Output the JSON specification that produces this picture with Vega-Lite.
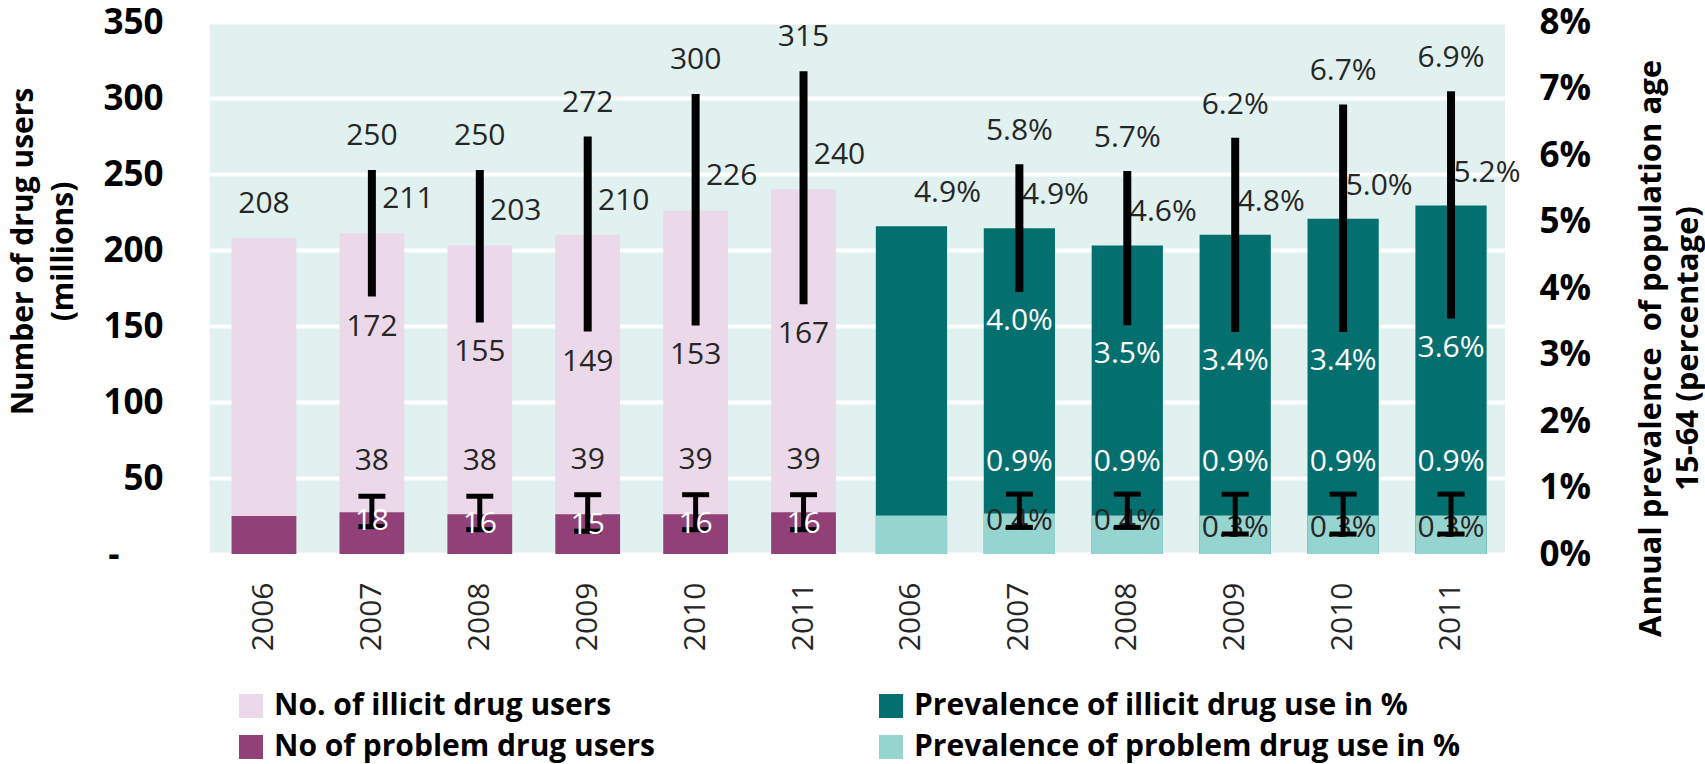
{
  "$schema": "https://vega.github.io/schema/vega-lite/v6.json",
  "width": 1295,
  "height": 532,
  "autosize": {"type": "none"},
  "padding": {"left": 210, "top": 22, "right": 200, "bottom": 210},
  "background": "white",
  "config": {
    "view": {"fill": "#E0F1EF", "stroke": null},
    "axis": {"labelFont": "Open Sans", "titleFont": "Open Sans"},
    "legend": {"labelFont": "Open Sans"},
    "text": {"font": "Open Sans", "fontSize": 30, "baseline": "middle", "align": "center"}
  },
  "data": {
    "values": [
      {"sec": "u", "slot": "u2006", "v": 208, "p": 25.0, "hi": null, "lo": null, "ph": null, "pl": null},
      {"sec": "u", "slot": "u2007", "v": 211, "p": 27.4, "hi": 250, "lo": 172, "ph": 38, "pl": 18},
      {"sec": "u", "slot": "u2008", "v": 203, "p": 26.1, "hi": 250, "lo": 155, "ph": 38, "pl": 16},
      {"sec": "u", "slot": "u2009", "v": 210, "p": 26.1, "hi": 272, "lo": 149, "ph": 39, "pl": 15},
      {"sec": "u", "slot": "u2010", "v": 226, "p": 26.1, "hi": 300, "lo": 153, "ph": 39, "pl": 16},
      {"sec": "u", "slot": "u2011", "v": 240, "p": 27.4, "hi": 315, "lo": 167, "ph": 39, "pl": 16},
      {"sec": "p", "slot": "p2006", "v": 0.0493, "p": 0.0058, "hi": null, "lo": null, "ph": null, "pl": null},
      {"sec": "p", "slot": "p2007", "v": 0.049, "p": 0.0061, "hi": 0.058, "lo": 0.040, "ph": 0.009, "pl": 0.004},
      {"sec": "p", "slot": "p2008", "v": 0.0464, "p": 0.0058, "hi": 0.057, "lo": 0.035, "ph": 0.009, "pl": 0.004},
      {"sec": "p", "slot": "p2009", "v": 0.048, "p": 0.0058, "hi": 0.062, "lo": 0.034, "ph": 0.009, "pl": 0.003},
      {"sec": "p", "slot": "p2010", "v": 0.0504, "p": 0.0058, "hi": 0.067, "lo": 0.034, "ph": 0.009, "pl": 0.003},
      {"sec": "p", "slot": "p2011", "v": 0.0524, "p": 0.0058, "hi": 0.069, "lo": 0.036, "ph": 0.009, "pl": 0.003}
    ]
  },
  "encoding": {
    "x": {
      "field": "slot",
      "type": "nominal",
      "sort": null,
      "scale": {
        "domain": ["u2006", "u2007", "u2008", "u2009", "u2010", "u2011", "p2006", "p2007", "p2008", "p2009", "p2010", "p2011"],
        "paddingInner": 0,
        "paddingOuter": 0
      },
      "axis": {
        "labelExpr": "substring(datum.label, 1)",
        "labelAngle": -90,
        "labelAlign": "right",
        "labelBaseline": "middle",
        "labelFontSize": 30,
        "labelColor": "#262626",
        "labelPadding": 28,
        "ticks": false,
        "domain": false,
        "grid": false,
        "title": null
      }
    }
  },
  "layer": [
    {
      "transform": [{"filter": "datum.sec == 'u'"}],
      "layer": [
        {
          "mark": {"type": "bar", "width": {"band": 0.6}},
          "encoding": {
            "y": {
              "field": "v",
              "type": "quantitative",
              "scale": {"domain": [0, 350], "nice": false, "zero": true},
              "axis": {
                "orient": "left",
                "values": [0, 50, 100, 150, 200, 250, 300, 350],
                "labelExpr": "datum.value == 0 ? '-' : datum.label",
                "labelFontSize": 35,
                "labelFontWeight": "bold",
                "labelColor": "#000000",
                "labelPadding": {"condition": {"test": "datum.value == 0", "value": 91}, "value": 47},
                "ticks": false,
                "domain": false,
                "grid": true,
                "gridColor": "#FFFFFF",
                "gridWidth": 4,
                "title": ["Number of drug users", "(millions)"],
                "titleFontSize": 30,
                "titleFontWeight": "bold",
                "titleColor": "#000000",
                "titleAngle": -90,
                "titleAlign": "center",
                "titleBaseline": "middle",
                "titleLineHeight": 40,
                "titleX": -187,
                "titleY": 229
              }
            },
            "color": {
              "datum": "No. of illicit drug users",
              "type": "nominal",
              "scale": {
                "domain": ["No. of illicit drug users", "Prevalence of illicit drug use in %", "No of problem drug users", "Prevalence of problem drug use in %"],
                "range": ["#EBD9E9", "#03706F", "#914078", "#96D4CF"]
              },
              "legend": {
                "orient": "none",
                "legendX": 26,
                "legendY": 669,
                "direction": "horizontal",
                "columns": 2,
                "columnPadding": 221,
                "rowPadding": 11,
                "symbolType": "square",
                "symbolSize": 576,
                "symbolStrokeWidth": 0,
                "symbolOpacity": 1,
                "labelFontSize": 30,
                "labelFontWeight": "bold",
                "labelColor": "#000000",
                "labelOffset": 8,
                "labelLimit": 0,
                "padding": 0,
                "title": null
              }
            }
          }
        },
        {
          "mark": {"type": "bar", "width": {"band": 0.6}},
          "encoding": {
            "y": {"field": "p", "type": "quantitative"},
            "color": {"datum": "No of problem drug users", "type": "nominal"}
          }
        },
        {
          "transform": [{"filter": "datum.hi == null"}],
          "mark": {"type": "text", "dy": -34, "color": "#262626"},
          "encoding": {
            "y": {"field": "v", "type": "quantitative"},
            "text": {"field": "v", "type": "quantitative", "format": "d"}
          }
        },
        {
          "transform": [{"filter": "datum.hi != null"}],
          "mark": {"type": "text", "dy": -34, "dx": 36, "color": "#262626"},
          "encoding": {
            "y": {"field": "v", "type": "quantitative"},
            "text": {"field": "v", "type": "quantitative", "format": "d"}
          }
        },
        {
          "transform": [{"filter": "datum.hi != null"}],
          "mark": {"type": "text", "dy": -38, "color": "#262626"},
          "encoding": {
            "y": {"field": "hi", "type": "quantitative"},
            "text": {"field": "hi", "type": "quantitative", "format": "d"}
          }
        },
        {
          "transform": [{"filter": "datum.hi != null"}],
          "mark": {"type": "text", "dy": 34, "color": "#262626"},
          "encoding": {
            "y": {"field": "lo", "type": "quantitative"},
            "text": {"field": "lo", "type": "quantitative", "format": "d"}
          }
        },
        {
          "transform": [{"filter": "datum.hi != null"}],
          "mark": {"type": "text", "dy": -35, "color": "#262626"},
          "encoding": {
            "y": {"field": "ph", "type": "quantitative"},
            "text": {"field": "ph", "type": "quantitative", "format": "d"}
          }
        },
        {
          "transform": [{"filter": "datum.hi != null"}],
          "mark": {"type": "rule", "strokeWidth": 8, "strokeCap": "square", "color": "#000000"},
          "encoding": {
            "y": {"field": "lo", "type": "quantitative"},
            "y2": {"field": "hi"}
          }
        },
        {
          "transform": [{"filter": "datum.hi != null"}],
          "mark": {"type": "rule", "strokeWidth": 5, "color": "#000000"},
          "encoding": {
            "y": {"field": "pl", "type": "quantitative"},
            "y2": {"field": "ph"}
          }
        },
        {
          "transform": [{"filter": "datum.hi != null"}],
          "mark": {"type": "tick", "size": 27, "thickness": 5, "color": "#000000", "opacity": 1},
          "encoding": {
            "y": {"field": "ph", "type": "quantitative"}
          }
        },
        {
          "transform": [{"filter": "datum.hi != null"}],
          "mark": {"type": "tick", "size": 27, "thickness": 5, "color": "#000000", "opacity": 1},
          "encoding": {
            "y": {"field": "pl", "type": "quantitative"}
          }
        },
        {
          "transform": [{"filter": "datum.hi != null"}],
          "mark": {"type": "text", "dy": -6, "color": "#FFFFFF"},
          "encoding": {
            "y": {"field": "pl", "type": "quantitative"},
            "text": {"field": "pl", "type": "quantitative", "format": "d"}
          }
        }
      ]
    },
    {
      "transform": [{"filter": "datum.sec == 'p'"}],
      "layer": [
        {
          "mark": {"type": "bar", "width": {"band": 0.66}},
          "encoding": {
            "y": {
              "field": "v",
              "type": "quantitative",
              "scale": {"domain": [0, 0.08], "nice": false, "zero": true},
              "axis": {
                "orient": "right",
                "values": [0, 0.01, 0.02, 0.03, 0.04, 0.05, 0.06, 0.07, 0.08],
                "format": ".0%",
                "labelFontSize": 35,
                "labelFontWeight": "bold",
                "labelColor": "#000000",
                "labelPadding": 34,
                "ticks": false,
                "domain": false,
                "grid": false,
                "title": ["Annual prevalence\u00a0 of population age", "15-64 (percentage)"],
                "titleFontSize": 31,
                "titleFontWeight": "bold",
                "titleColor": "#000000",
                "titleAngle": -90,
                "titleAlign": "center",
                "titleBaseline": "middle",
                "titleLineHeight": 37,
                "titleX": 146,
                "titleY": 326
              }
            },
            "color": {"datum": "Prevalence of illicit drug use in %", "type": "nominal"}
          }
        },
        {
          "mark": {"type": "bar", "width": {"band": 0.66}},
          "encoding": {
            "y": {"field": "p", "type": "quantitative"},
            "color": {"datum": "Prevalence of problem drug use in %", "type": "nominal"}
          }
        },
        {
          "mark": {"type": "text", "dy": -33, "dx": 36, "color": "#262626"},
          "encoding": {
            "y": {"field": "v", "type": "quantitative"},
            "text": {"field": "v", "type": "quantitative", "format": ".1%"}
          }
        },
        {
          "transform": [{"filter": "datum.hi != null"}],
          "mark": {"type": "text", "dy": -37, "color": "#262626"},
          "encoding": {
            "y": {"field": "hi", "type": "quantitative"},
            "text": {"field": "hi", "type": "quantitative", "format": ".1%"}
          }
        },
        {
          "transform": [{"filter": "datum.hi != null"}],
          "mark": {"type": "text", "dy": 33, "color": "#FFFFFF"},
          "encoding": {
            "y": {"field": "lo", "type": "quantitative"},
            "text": {"field": "lo", "type": "quantitative", "format": ".1%"}
          }
        },
        {
          "transform": [{"filter": "datum.hi != null"}],
          "mark": {"type": "text", "dy": -32, "color": "#FFFFFF"},
          "encoding": {
            "y": {"field": "ph", "type": "quantitative"},
            "text": {"field": "ph", "type": "quantitative", "format": ".1%"}
          }
        },
        {
          "transform": [{"filter": "datum.hi != null"}],
          "mark": {"type": "rule", "strokeWidth": 8, "strokeCap": "square", "color": "#000000"},
          "encoding": {
            "y": {"field": "lo", "type": "quantitative"},
            "y2": {"field": "hi"}
          }
        },
        {
          "transform": [{"filter": "datum.hi != null"}],
          "mark": {"type": "text", "dy": -6, "color": "#262626"},
          "encoding": {
            "y": {"field": "pl", "type": "quantitative"},
            "text": {"field": "pl", "type": "quantitative", "format": ".1%"}
          }
        },
        {
          "transform": [{"filter": "datum.hi != null"}],
          "mark": {"type": "rule", "strokeWidth": 5, "color": "#000000"},
          "encoding": {
            "y": {"field": "pl", "type": "quantitative"},
            "y2": {"field": "ph"}
          }
        },
        {
          "transform": [{"filter": "datum.hi != null"}],
          "mark": {"type": "tick", "size": 27, "thickness": 5, "color": "#000000", "opacity": 1},
          "encoding": {
            "y": {"field": "ph", "type": "quantitative"}
          }
        },
        {
          "transform": [{"filter": "datum.hi != null"}],
          "mark": {"type": "tick", "size": 27, "thickness": 5, "color": "#000000", "opacity": 1},
          "encoding": {
            "y": {"field": "pl", "type": "quantitative"}
          }
        }
      ]
    }
  ],
  "resolve": {"scale": {"y": "independent"}, "axis": {"y": "independent"}}
}
